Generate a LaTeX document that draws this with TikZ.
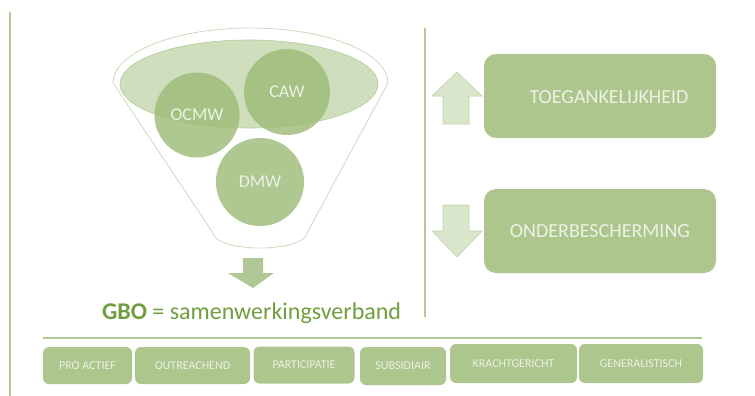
\documentclass[tikz,border=0pt]{standalone}
\usepackage{fontspec}
\setmainfont{Carlito}
\begin{document}
\begin{tikzpicture}[x=1pt,y=1pt,
  every node/.style={inner sep=0pt, outer sep=0pt},
  rule/.style={draw=lineg, line width=1.6pt},
  circ/.style={circle, fill=circg, fill opacity=0.8, text opacity=1, text=txtw, font=\fontsize{18}{20}\selectfont},
  bigbox/.style={rounded corners=12pt, fill=boxg, text=txtw, font=\fontsize{20}{22}\selectfont},
  smallbox/.style={rounded corners=6pt, fill=boxg, text=txtw, font=\fontsize{12}{14}\selectfont},
  lightarrow/.style={fill=arrl, draw=arrd, line width=0.6pt, line join=miter},
]
\definecolor{lineg}{RGB}{178,202,150}
\definecolor{circg}{RGB}{155,186,117}
\definecolor{txtw}{RGB}{236,242,228}
\definecolor{boxg}{RGB}{172,198,142}
\definecolor{arrl}{RGB}{217,230,203}
\definecolor{arrd}{RGB}{192,210,172}
\definecolor{ellf}{RGB}{207,223,190}
\definecolor{funl}{RGB}{205,218,190}
\definecolor{gbog}{RGB}{112,158,62}
\definecolor{downg}{RGB}{176,200,150}
\useasboundingbox (0,0) rectangle (755,-396);

% rules
\coordinate (l1) at (10,-12); \coordinate (l2) at (10,-396);
\draw[rule] (l1) -- (l2);
\coordinate (m1) at (425,-28); \coordinate (m2) at (425,-317);
\draw[rule] (m1) -- (m2);
\coordinate (h1) at (43,-338); \coordinate (h2) at (702,-338);
\draw[rule] (h1) -- (h2);

% funnel
\draw[draw=funl, line width=0.8pt, fill=white]
  (113,-83) arc[start angle=180, end angle=0, x radius=137.5, y radius=55]
  -- (307,-233) arc[start angle=0, end angle=-180, x radius=47, y radius=15]
  -- cycle;
\draw[draw=lineg, line width=0.6pt, fill=ellf] (249,-84) ellipse[x radius=129, y radius=44];

\node[circ, minimum size=85pt] (ocmw) at (197,-115) {OCMW};
\node[circ, minimum size=86pt] (caw) at (287,-92) {CAW};
\node[circ, minimum size=88pt] (dmw) at (260,-182) {DMW};

% arrow below funnel
\fill[downg] (243,-258) -- (263,-258) -- (263,-273) -- (274,-273) -- (253,-288)
  -- (228,-273) -- (243,-273) -- cycle;
\node[anchor=base west, font=\fontsize{24}{26}\selectfont, text=gbog] (gbo) at (102,-319)
  {\textbf{GBO} = samenwerkingsverband};

% right side
\node[bigbox, minimum width=232pt, minimum height=84pt] (toeg) at (600,-96) {};
\node[text=txtw, font=\fontsize{20}{22}\selectfont] (toegt) at (609,-97) {TOEGANKELIJKHEID};
\node[bigbox, minimum width=232pt, minimum height=84pt] (onder) at (600,-231) {ONDERBESCHERMING};

\draw[lightarrow] (443,-124) -- (443,-96) -- (432,-96) -- (457,-72) -- (482,-96)
  -- (469,-96) -- (469,-124) -- cycle;
\draw[lightarrow] (443,-205) -- (469,-205) -- (469,-231) -- (482,-231) -- (457,-257)
  -- (432,-231) -- (443,-231) -- cycle;

% bottom boxes
\node[smallbox, minimum width=89pt, minimum height=37pt] (b1) at (87.5,-365.5) {PRO ACTIEF};
\node[smallbox, minimum width=115pt, minimum height=37pt] (b2) at (192.5,-365.5) {OUTREACHEND};
\node[smallbox, minimum width=101pt, minimum height=37pt] (b3) at (304,-365) {PARTICIPATIE};
\node[smallbox, minimum width=86pt, minimum height=38pt] (b4) at (403,-366) {SUBSIDIAIR};
\node[smallbox, minimum width=127pt, minimum height=39pt] (b5) at (513.5,-363.5) {KRACHTGERICHT};
\node[smallbox, minimum width=124pt, minimum height=39pt] (b6) at (641,-363.5) {GENERALISTISCH};
\end{tikzpicture}
\end{document}
